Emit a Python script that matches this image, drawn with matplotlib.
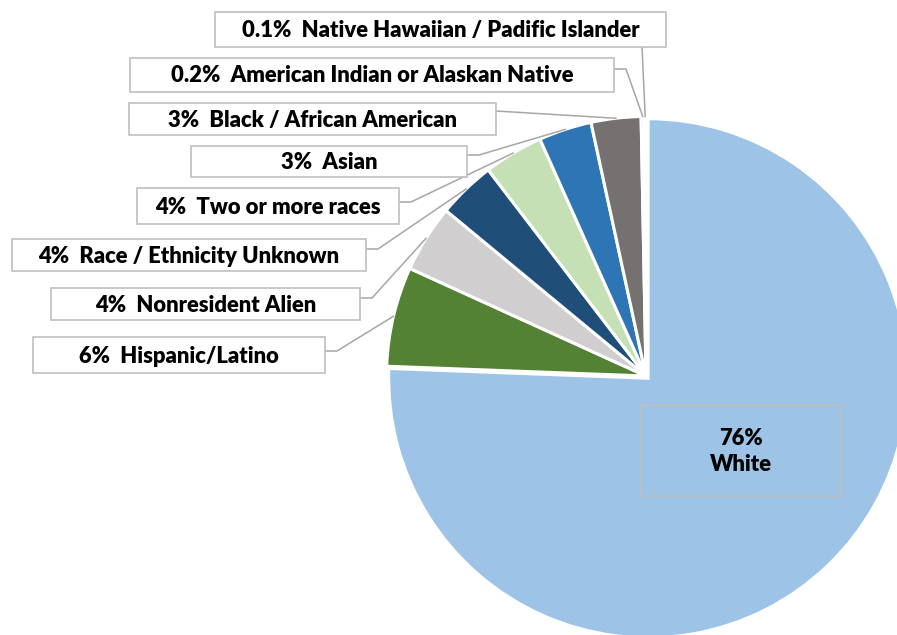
import matplotlib.pyplot as plt
from matplotlib.patches import Rectangle
import numpy as np

plt.rcParams['font.family'] = ['Lato', 'DejaVu Sans']

groups = ['White', 'Hispanic/Latino', 'Nonresident Alien', 'Race / Ethnicity Unknown',
          'Two or more races', 'Asian', 'Black / African American',
          'American Indian or Alaskan Native', 'Native Hawaiian / Padific Islander']
pct_labels = ['76%', '6%', '4%', '4%', '4%', '3%', '3%', '0.2%', '0.1%']
shares = [75.6, 6.2, 4.2, 3.6, 3.7, 3.3, 3.1, 0.2, 0.1]
colors = ['#9DC3E6', '#548235', '#D0CECE', '#1F4E79', '#C5E0B4',
          '#2E75B6', '#767171', '#F4B183', '#FFD966']

# label boxes in pixels (left, top, right, bottom) and the y of the leader stub
boxes = [(641, 405, 841, 496), (33, 337, 325, 373), (51, 288, 360, 320),
         (12, 239, 366, 271), (137, 188, 399, 224), (191, 146, 467, 177),
         (129, 103, 496, 135), (130, 58, 614, 92), (215, 12, 666, 47)]
stub_y = [None, 351, 298, 249, 202, 155, 111, 69, None]

CX, CY, R = 646, 376, 259.5


def px(x, y):
    return (x - CX) / R, (CY - y) / R


fig = plt.figure(figsize=(8.97, 6.35), dpi=100)
ax = fig.add_axes([0, 0, 1, 1])

explode = [0.012] + [0] * (len(shares) - 1)
wedges, _ = ax.pie(shares, colors=colors, startangle=90, counterclock=False,
                   explode=explode, radius=1,
                   wedgeprops=dict(edgecolor='white', linewidth=2.2))

ax.set_xlim(px(0, 0)[0], px(897, 0)[0])
ax.set_ylim(px(0, 635)[1], px(0, 0)[1])
ax.set_aspect('auto')
ax.axis('off')

box_col = '#BFBFBF'
line_col = '#A6A6A6'

for i, w in enumerate(wedges):
    l, t, r, b = boxes[i]
    x0, y0 = px(l, b)
    x1, y1 = px(r, t)
    ax.add_patch(Rectangle((x0, y0), x1 - x0, y1 - y0, facecolor='none' if i == 0 else 'white',
                           edgecolor=box_col, linewidth=1.2, zorder=3))
    tx, ty = px((l + r) / 2, (t + b) / 2 + 1)
    if i == 0:
        txt = pct_labels[i] + '\n' + groups[i]
    else:
        txt = pct_labels[i] + '  ' + groups[i]
    ax.text(tx, ty, txt, ha='center', va='center', fontsize=15.8, fontweight='heavy',
            color='black', linespacing=1.3, zorder=4)

    if i == 0:
        continue
    # leader: from the box to the middle of the slice's outer edge
    ang = np.deg2rad((w.theta1 + w.theta2) / 2)
    ax_, ay_ = np.cos(ang) * 1.0, np.sin(ang) * 1.0
    if stub_y[i] is None:
        sx, sy = px(642, b)
        xs, ys = [sx, ax_], [sy, ay_]
    elif i == 6:
        sx, sy = px(r, stub_y[i])
        xs, ys = [sx, ax_], [sy, ay_]
    else:
        sx, sy = px(r, stub_y[i])
        ex, _ = px(r + 12, stub_y[i])
        xs, ys = [sx, ex, ax_], [sy, sy, ay_]
    ax.plot(xs, ys, color=line_col, linewidth=1.1, zorder=2)

plt.savefig('out.png', dpi=100)
